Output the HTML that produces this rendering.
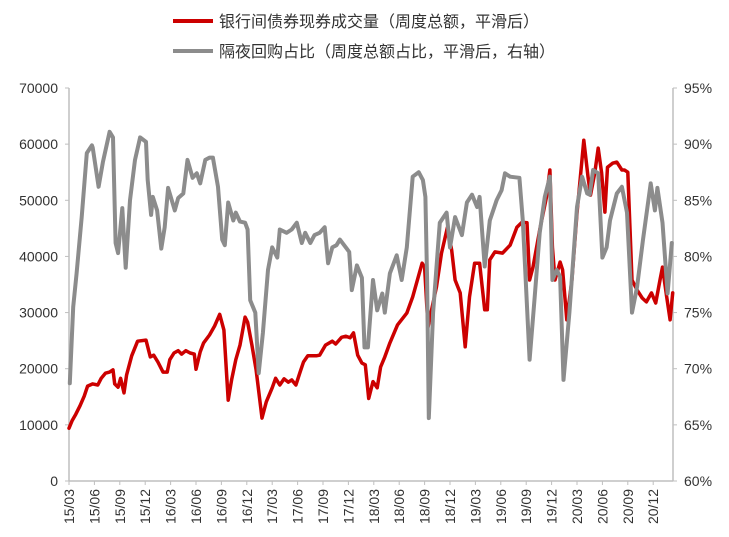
<!DOCTYPE html>
<html><head><meta charset="utf-8">
<style>
html,body{margin:0;padding:0;background:#fff;}
svg{display:block;font-family:"Liberation Sans","Noto Sans CJK SC",sans-serif;}
</style></head>
<body>
<svg id="chart" width="729" height="537" viewBox="0 0 729 537" xmlns="http://www.w3.org/2000/svg">
<g>
  <line x1="173" y1="21" x2="213" y2="21" stroke="#cc0000" stroke-width="4"/>
  <text x="219" y="27" font-size="16" fill="#333">银行间债券现券成交量（周度总额，平滑后）</text>
  <line x1="173" y1="51" x2="213" y2="51" stroke="#8c8c8c" stroke-width="4"/>
  <text x="219" y="57" font-size="16" fill="#333">隔夜回购占比（周度总额占比，平滑后，右轴）</text>
</g>
<g id="axes"></g>
<g id="series"></g>
</svg>
<script>
const xTickLabels = ["15/03","15/06","15/09","15/12","16/03","16/06","16/09","16/12","17/03","17/06","17/09","17/12","18/03","18/06","18/09","18/12","19/03","19/06","19/09","19/12","20/03","20/06","20/09","20/12"];
const leftTicks = [0,10000,20000,30000,40000,50000,60000,70000];
const rightTicks = [60,65,70,75,80,85,90,95];
// months since 2015/03
const volMonths = [0,0.35,0.8,1.3,1.8,2.2,2.8,3.4,3.8,4.3,4.8,5.2,5.4,5.8,6.1,6.5,6.8,7.4,8.1,9.1,9.6,10.0,10.5,11.1,11.6,11.9,12.4,12.9,13.3,13.8,14.3,14.8,15.0,15.5,15.9,16.6,17.2,17.8,18.3,18.8,19.2,19.7,20.2,20.8,21.1,21.6,22.1,22.8,23.3,24.0,24.4,24.9,25.4,25.9,26.3,26.8,27.3,27.7,28.2,29.2,29.6,30.3,31.1,31.5,32.2,32.7,33.2,33.6,34.1,34.6,35.0,35.4,35.9,36.4,36.8,37.3,37.9,38.8,39.9,40.6,41.7,42.0,42.4,42.9,43.4,44.0,44.7,45.2,45.6,46.2,46.8,47.3,47.9,48.5,49.1,49.4,49.7,50.3,51.2,52.1,52.9,53.5,54.1,54.4,54.8,55.6,56.4,56.8,57.1,57.4,58.0,58.3,58.8,59.4,60.0,60.4,60.8,61.3,61.6,62.1,62.5,62.9,63.3,63.6,64.2,64.7,65.3,65.6,66.0,66.5,67.1,67.7,68.2,68.8,69.3,69.8,70.1,70.6,71.0,71.3];
const volValues = [9400,10700,11900,13400,15100,16900,17300,17100,18300,19200,19400,19800,17300,16700,18300,15700,18900,22300,24900,25100,22100,22400,21200,19400,19400,21600,22800,23200,22600,23200,22800,22600,19900,23000,24600,26000,27600,29700,26900,14400,18000,21600,24200,29200,28300,24200,19800,11200,14100,16600,18300,17100,18200,17600,18000,17100,19400,21200,22300,22300,22400,24200,24900,24400,25600,25800,25500,26400,22400,21000,20700,14700,17700,16600,20300,22100,24600,27800,29900,32800,38800,38100,27400,31000,34600,40600,45200,41100,35800,33500,23900,32800,38800,38800,30500,30500,39400,40800,40600,42000,45200,46100,46000,35800,38100,44700,50600,55400,41700,35800,39000,37600,28700,35800,47700,54200,60700,54200,50900,54900,59300,54900,47900,55900,56600,56800,55400,55400,55000,35800,34000,32600,31900,33500,31700,35800,38100,32800,28700,33500];
const onMonths = [0.1,0.5,0.9,1.5,2.1,2.7,2.8,3.5,4.0,4.8,5.2,5.5,5.8,6.3,6.7,7.2,7.8,8.4,9.1,9.3,9.7,9.9,10.4,10.9,11.3,11.7,12.5,12.9,13.5,14.0,14.6,15.1,15.5,16.1,16.6,17.0,17.6,18.1,18.4,18.8,19.4,19.7,20.2,20.8,21.1,21.4,22.0,22.4,22.9,23.5,24.0,24.6,24.9,25.7,26.3,26.9,27.5,27.9,28.5,29.0,29.6,30.2,30.6,31.1,31.6,32.0,32.8,33.1,33.4,34.0,34.6,34.9,35.3,35.9,36.4,37.0,37.3,37.9,38.7,39.3,39.9,40.6,41.3,41.8,42.1,42.3,42.5,43.0,43.8,44.6,45.0,45.6,46.4,47.0,47.6,48.2,48.5,49.1,49.7,50.5,51.1,51.5,52.1,53.2,53.6,54.4,55.0,55.6,56.2,56.8,57.1,57.6,58.0,58.4,59.1,60.0,60.6,61.2,61.5,61.9,62.5,63.0,63.5,63.9,64.7,65.3,65.9,66.5,67.1,67.8,68.7,69.2,69.5,70.1,70.7,71.2];
const onValues = [68.7,75.5,78.5,83.5,89.2,89.9,89.7,86.2,88.4,91.1,90.6,81.2,80.3,84.3,79.0,85.0,88.6,90.6,90.2,86.8,83.7,85.3,84.1,80.7,82.6,86.1,84.1,85.2,85.6,88.6,87.0,87.4,86.5,88.6,88.8,88.8,86.2,81.5,81.0,84.8,83.2,83.9,83.1,83.0,82.4,76.1,75.0,69.6,73.2,78.8,80.8,79.9,82.4,82.1,82.4,83.0,81.2,82.1,81.2,81.9,82.1,82.6,79.4,80.8,81.0,81.5,80.7,80.4,77.0,79.2,78.1,71.9,71.9,77.9,75.2,76.7,75.0,78.5,80.1,77.9,80.8,87.1,87.5,86.8,85.3,77.9,65.6,75.0,83.0,83.9,80.8,83.5,81.9,84.8,85.5,84.4,85.3,79.1,83.2,85.0,85.9,87.4,87.1,87.0,83.2,70.8,76.4,82.1,85.3,87.1,77.9,78.8,78.2,69.0,75.0,84.4,87.1,85.6,85.5,87.7,87.4,79.9,80.8,83.2,85.6,86.2,83.9,75.0,77.3,81.5,86.5,84.1,86.1,83.0,76.7,81.2];

const NS = "http://www.w3.org/2000/svg";
const X0 = 69, XR = 673, YB = 481, YT = 88, MPX = 25.4/3;
const xScale = m => X0 + m * MPX;
const yLeft = v => YB - (v / 70000) * (YB - YT);
const yRight = p => YB - ((p - 60) / 35) * (YB - YT);
function mk(tag, attrs){const e=document.createElementNS(NS,tag);for(const k in attrs)e.setAttribute(k,attrs[k]);return e;}
const axes = document.getElementById('axes');
const series = document.getElementById('series');

let el = mk('line',{x1:X0,y1:YT,x2:X0,y2:YB,stroke:'#bfbfbf','stroke-width':1.5});


axes.appendChild(el);
el = mk('line',{x1:XR,y1:YT,x2:XR,y2:YB,stroke:'#bfbfbf','stroke-width':1.5});


axes.appendChild(el);
el = mk('line',{x1:X0,y1:YB,x2:XR,y2:YB,stroke:'#bfbfbf','stroke-width':1.5});


axes.appendChild(el);

leftTicks.forEach(v=>{
  const y = yLeft(v);
  const t = mk('line',{x1:X0-4,y1:y,x2:X0,y2:y,stroke:'#bfbfbf','stroke-width':1});
  
  
  axes.appendChild(t);
  const tx = mk('text',{x:58,y:y+5,'font-size':14,fill:'#333','text-anchor':'end'});
  tx.textContent = v;
  
  
  axes.appendChild(tx);
});
rightTicks.forEach(p=>{
  const y = yRight(p);
  const t = mk('line',{x1:XR,y1:y,x2:XR+4,y2:y,stroke:'#bfbfbf','stroke-width':1});
  
  
  axes.appendChild(t);
  const tx = mk('text',{x:684,y:y+5,'font-size':14,fill:'#333'});
  tx.textContent = p + '%';
  
  
  axes.appendChild(tx);
});
xTickLabels.forEach((lab,i)=>{
  const x = xScale(i*3);
  const t = mk('line',{x1:x,y1:YB,x2:x,y2:YB+4,stroke:'#bfbfbf','stroke-width':1});
  
  
  axes.appendChild(t);
  const tx = mk('text',{x:0,y:0,'font-size':14,fill:'#333','text-anchor':'end',transform:`translate(${x+5},489) rotate(-90)`});
  tx.textContent = lab;
  
  
  axes.appendChild(tx);
});

const grayPts = onMonths.map((m,i)=>xScale(m).toFixed(1)+','+yRight(onValues[i]).toFixed(1)).join(' ');
const gl = mk('polyline',{points:grayPts,fill:'none',stroke:'#8c8c8c','stroke-width':4,'stroke-linejoin':'round','stroke-linecap':'round'});


const redPts = volMonths.map((m,i)=>xScale(m).toFixed(1)+','+yLeft(volValues[i]).toFixed(1)).join(' ');
const rl = mk('polyline',{points:redPts,fill:'none',stroke:'#cc0000','stroke-width':3.5,'stroke-linejoin':'round','stroke-linecap':'round'});


series.appendChild(rl);
series.appendChild(gl);
</script>
</body></html>
